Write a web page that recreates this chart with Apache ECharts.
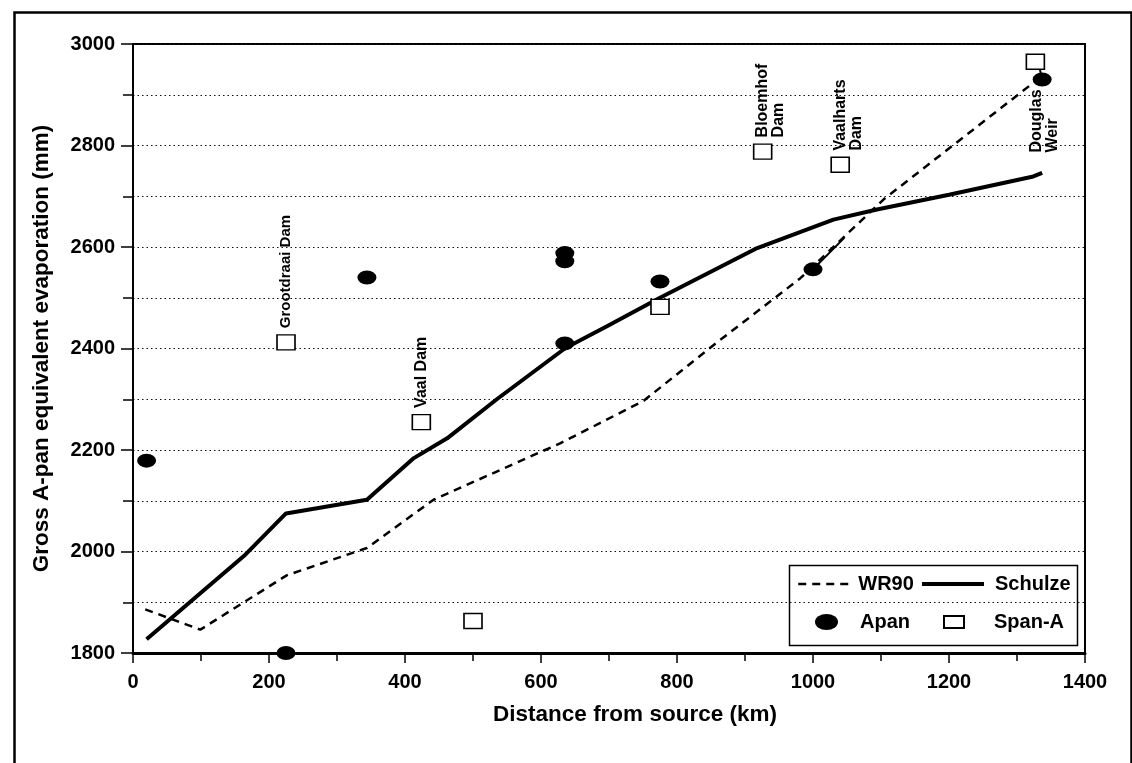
<!DOCTYPE html>
<html lang="en">
<head>
<meta charset="UTF-8">
<title>Gross A-pan equivalent evaporation</title>
<style>
    html, body { margin: 0; padding: 0; background: #fff; }
    #main { width: 1132px; height: 763px; }
</style>
</head>
<body>
<div id="main"></div>
<script src="https://cdn.jsdelivr.net/npm/echarts@6/dist/echarts.min.js"></script>
<script>
    // distance from source (km), evaporation (mm)
    var wr90 = [[18, 1886], [99, 1846], [226, 1953], [344, 2007], [442, 2102], [579, 2184], [628, 2213],
        [751, 2297], [854, 2407], [981, 2538], [1104, 2694], [1335, 2935]];
    var schulze = [[20, 1827], [163, 1991], [225, 2075], [344, 2102], [413, 2184], [462, 2223], [535, 2300],
        [636, 2401], [697, 2444], [775, 2500], [918, 2598], [1030, 2654], [1094, 2674], [1200, 2703],
        [1324, 2739], [1337, 2746]];
    var apan = [[20, 2179], [225, 1800], [344, 2540], [635, 2572], [635, 2588], [635, 2410], [775, 2532],
        [1000, 2556], [1337, 2930]];
    var spanA = [[225, 2412], [424, 2255], [500, 1863], [775, 2482], [926, 2788], [1040, 2762], [1327, 2965]];
    var spanNames = ['Grootdraai Dam', 'Vaal Dam', '', '', 'Bloemhof\nDam', 'Vaalharts\nDam', 'Douglas\nWeir'];
    // short pointer lines from a marker to its site
    var leaders = [[[1000, 2556], [1046, 2618]], [[1337, 2930], [1332, 2960]]];

    var xMin = 0, xMax = 1400, xStep = 200;
    var yMin = 1800, yMax = 3000, yStep = 200;

    var font = "'Liberation Sans', Arial, sans-serif";
    var ellipse = 'path://M0,10A10,10,0,1,1,20,10A10,10,0,1,1,0,10Z';
    var dotted = {color: '#111', width: 1, type: [1.5, 3]};
    var dashStyle = {color: '#000', width: 2.5, type: [8, 6]};
    var solidStyle = {color: '#000', width: 4};

    var spanData = spanA.map(function (p, i) {
        var item = {value: p};
        if (spanNames[i]) {
            var below = p[1] > 2900;   // no room above the top box
            item.label = {
                show: true,
                formatter: spanNames[i],
                position: below ? [3, 99] : [2, -6],
                rotate: 90,
                align: 'left',
                verticalAlign: 'top',
                fontFamily: font,
                fontWeight: 'bold',
                fontSize: i === 0 ? 15 : 16,
                lineHeight: 16,
                color: '#000'
            };
        }
        return item;
    });

    var series = [
        {
            name: 'WR90', type: 'line', data: wr90, symbol: 'none', z: 3,
            itemStyle: {color: '#000'},
            lineStyle: dashStyle
        },
        {
            name: 'Schulze', type: 'line', data: schulze, symbol: 'none', z: 3,
            itemStyle: {color: '#000'},
            lineStyle: solidStyle
        },
        {
            name: 'Apan', type: 'scatter', data: apan, symbol: ellipse, symbolSize: [19, 14], z: 4,
            itemStyle: {color: '#000', opacity: 1}
        },
        {
            name: 'Span-A', type: 'scatter', data: spanData, symbol: 'rect', symbolSize: [18, 15], z: 5,
            itemStyle: {color: '#fff', borderColor: '#000', borderWidth: 1.5, opacity: 1}
        }
    ];
    leaders.forEach(function (seg) {
        series.push({
            type: 'line', data: seg, symbol: 'none', silent: true, z: 3,
            lineStyle: {color: '#000', width: 2}
        });
    });

    function legendItem(name, left, top, w, h, gap, extra) {
        var l = {
            data: [name], left: left, top: top, padding: 0, itemWidth: w, itemHeight: h,
            selectedMode: false, symbolKeepAspect: false,
            textStyle: {color: '#000', fontFamily: font, fontWeight: 'bold', fontSize: 20, padding: [0, 0, 0, gap]}
        };
        for (var k in extra) l[k] = extra[k];
        return l;
    }

    function plain(v) { return String(v); }

    var myChart = echarts.init(document.getElementById('main'));
    var option = {
        backgroundColor: '#fff',
        animation: false,
        grid: {
            left: 133, right: 47, top: 44, bottom: 110,
            show: true, borderColor: '#000', borderWidth: 2,
            outerBoundsMode: 'none'
        },
        xAxis: {
            type: 'value', min: xMin, max: xMax, interval: xStep,
            axisLine: {show: true, lineStyle: {color: '#000', width: 3}},
            axisTick: {show: true, length: 10, lineStyle: {color: '#000', width: 1.5}},
            minorTick: {show: true, splitNumber: 2, length: 8, lineStyle: {color: '#000', width: 1.5}},
            splitLine: {show: false},
            axisLabel: {color: '#000', fontFamily: font, fontWeight: 'bold', fontSize: 20, margin: 19, formatter: plain},
            name: 'Distance from source (km)', nameLocation: 'middle', nameGap: 50,
            nameTextStyle: {color: '#000', fontFamily: font, fontWeight: 'bold', fontSize: 22.5, padding: [0, 0, 0, 52]}
        },
        yAxis: {
            type: 'value', min: yMin, max: yMax, interval: yStep,
            axisLine: {show: true, lineStyle: {color: '#000', width: 2}},
            axisTick: {show: true, length: 12, lineStyle: {color: '#000', width: 1.5}},
            minorTick: {show: true, splitNumber: 2, length: 10, lineStyle: {color: '#000', width: 1.5}},
            splitLine: {show: true, lineStyle: dotted},
            minorSplitLine: {show: true, lineStyle: dotted},
            axisLabel: {color: '#000', fontFamily: font, fontWeight: 'bold', fontSize: 20, margin: 18, formatter: plain},
            name: 'Gross A-pan equivalent evaporation (mm)', nameLocation: 'middle', nameGap: 80, nameRotate: 90,
            nameTextStyle: {color: '#000', fontFamily: font, fontWeight: 'bold', fontSize: 22.5}
        },
        legend: [
            legendItem('WR90', 797, 574, 50, 14, 5, {itemStyle: {opacity: 0}, lineStyle: dashStyle}),
            legendItem('Schulze', 920, 574, 62, 14, 6, {itemStyle: {opacity: 0}, lineStyle: solidStyle}),
            legendItem({name: 'Apan', icon: ellipse}, 815, 612, 23, 16, 17),
            legendItem('Span-A', 943, 612, 20, 12, 25,
                {itemStyle: {color: '#fff', borderColor: '#000', borderWidth: 2}})
        ],
        graphic: [
            {
                type: 'rect', left: 787, top: 563, silent: true,
                shape: {width: 288, height: 80},
                style: {fill: 'none', stroke: '#000', lineWidth: 1.5}
            },
            {
                type: 'rect', left: 12, top: 10, silent: true,
                shape: {width: 1117, height: 800},
                style: {fill: 'none', stroke: '#000', lineWidth: 2.5}
            }
        ],
        series: series
    };
    myChart.setOption(option);
</script>
</body>
</html>
